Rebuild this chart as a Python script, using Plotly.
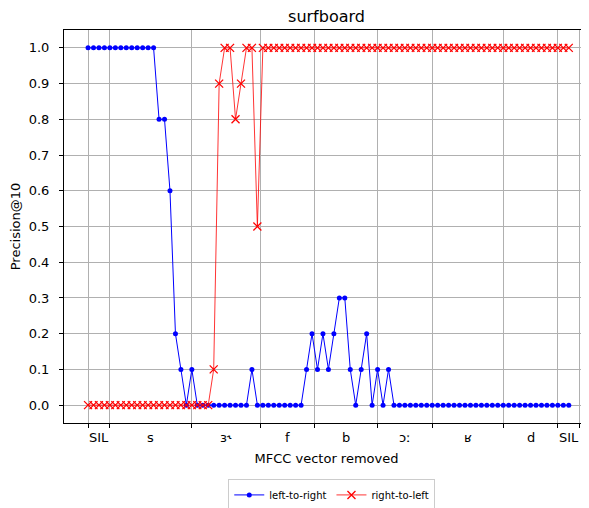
import plotly.graph_objects as go

# Precision@10 after removing each MFCC vector (index along the word)
left_to_right = [
    1.0, 1.0, 1.0, 1.0, 1.0, 1.0, 1.0, 1.0, 1.0, 1.0, 1.0, 1.0, 1.0,
    0.8, 0.8, 0.6, 0.2, 0.1, 0.0, 0.1,
    0.0, 0.0, 0.0, 0.0, 0.0, 0.0, 0.0, 0.0, 0.0, 0.0,
    0.1,
    0.0, 0.0, 0.0, 0.0, 0.0, 0.0, 0.0, 0.0, 0.0,
    0.1, 0.2, 0.1, 0.2, 0.1, 0.2, 0.3, 0.3, 0.1, 0.0, 0.1, 0.2, 0.0, 0.1, 0.0, 0.1,
    0.0, 0.0, 0.0, 0.0, 0.0, 0.0, 0.0, 0.0, 0.0, 0.0, 0.0,
    0.0, 0.0, 0.0, 0.0, 0.0, 0.0, 0.0, 0.0, 0.0, 0.0, 0.0,
    0.0, 0.0, 0.0, 0.0, 0.0, 0.0, 0.0, 0.0, 0.0, 0.0, 0.0,
]
right_to_left = [
    0.0, 0.0, 0.0, 0.0, 0.0, 0.0, 0.0, 0.0, 0.0, 0.0, 0.0, 0.0,
    0.0, 0.0, 0.0, 0.0, 0.0, 0.0, 0.0, 0.0, 0.0, 0.0, 0.0,
    0.1, 0.9, 1.0, 1.0, 0.8, 0.9, 1.0, 1.0, 0.5,
    1.0, 1.0, 1.0, 1.0, 1.0, 1.0, 1.0, 1.0, 1.0, 1.0, 1.0, 1.0, 1.0, 1.0, 1.0, 1.0, 1.0, 1.0, 1.0,
    1.0, 1.0, 1.0, 1.0, 1.0, 1.0, 1.0, 1.0, 1.0, 1.0, 1.0, 1.0, 1.0, 1.0, 1.0, 1.0, 1.0, 1.0, 1.0,
    1.0, 1.0, 1.0, 1.0, 1.0, 1.0, 1.0, 1.0, 1.0, 1.0, 1.0, 1.0, 1.0, 1.0, 1.0, 1.0, 1.0, 1.0, 1.0,
]

# phone segments: boundaries (in vector index) and labels
boundaries = [0, 4, 19, 31.6, 41.5, 53, 63, 76, 86, 90]
phones = ["SIL", "s", "ɜ˞", "f", "b", "ɔː", "ʁ", "d", "SIL"]

idx = list(range(len(left_to_right)))
font = "DejaVu Sans"

fig = go.Figure()

fig.add_trace(
    go.Scatter(x=idx, y=left_to_right, mode="lines+markers", name="left-to-right",
               line=dict(color="#0000ff", width=1),
               marker=dict(symbol="circle", size=5, color="#0000ff")
    )
)

fig.add_trace(
    go.Scatter(x=idx, y=right_to_left, mode="lines+markers", name="right-to-left",
               line=dict(color="#ff0000", width=0.8),
               marker=dict(symbol="x-thin", size=8, color="#ff0000",
                           line=dict(color="#ff0000", width=1.3))
    )
)

mids = [(a + b) / 2 for a, b in zip(boundaries[:-1], boundaries[1:])]
for m, p in zip(mids, phones):
    fig.add_annotation(x=m, y=-0.036, xref="x", yref="paper", text=p, showarrow=False,
                       xanchor="center", yanchor="middle",
                       font=dict(family=font, size=13, color="black"))

# the page body adds an 8px offset, so the figure is a bit smaller than the window
fig.update_layout(
    width=581, height=500,
    margin=dict(l=56, r=0, t=22, b=85, autoexpand=False),
    plot_bgcolor="white", paper_bgcolor="white",
    font=dict(family=font, size=13, color="black"),
    title=dict(text="surfboard", x=0.5, xref="paper", y=1 - 8 / 500, yanchor="middle",
               font=dict(family=font, size=16, color="black")),
    showlegend=True,
    legend=dict(orientation="h", x=0.51, y=-0.183, xanchor="center", yanchor="middle",
                bordercolor="#cccccc", borderwidth=1, font=dict(family=font, size=10)),
)

fig.update_xaxes(
    range=[-4.4, 91.7], tickvals=boundaries, showticklabels=False,
    ticks="outside", ticklen=4, tickcolor="black", automargin=False,
    showgrid=True, gridcolor="#b0b0b0", gridwidth=1, zeroline=False,
    showline=True, linecolor="black", linewidth=1, mirror=True,
    title=dict(text="MFCC vector removed", standoff=26, font=dict(family=font, size=13)),
)

fig.update_yaxes(
    range=[-0.05, 1.05], tickvals=[i / 10 for i in range(11)], tickformat=".1f",
    ticks="outside", ticklen=4, tickcolor="black", ticklabelstandoff=7, automargin=False,
    showgrid=True, gridcolor="#b0b0b0", gridwidth=1, zeroline=False,
    showline=True, linecolor="black", linewidth=1, mirror=False,
    tickfont=dict(family=font, size=13),
    title=dict(text="Precision@10", standoff=12, font=dict(family=font, size=13)),
)

fig.write_html("out.html")
